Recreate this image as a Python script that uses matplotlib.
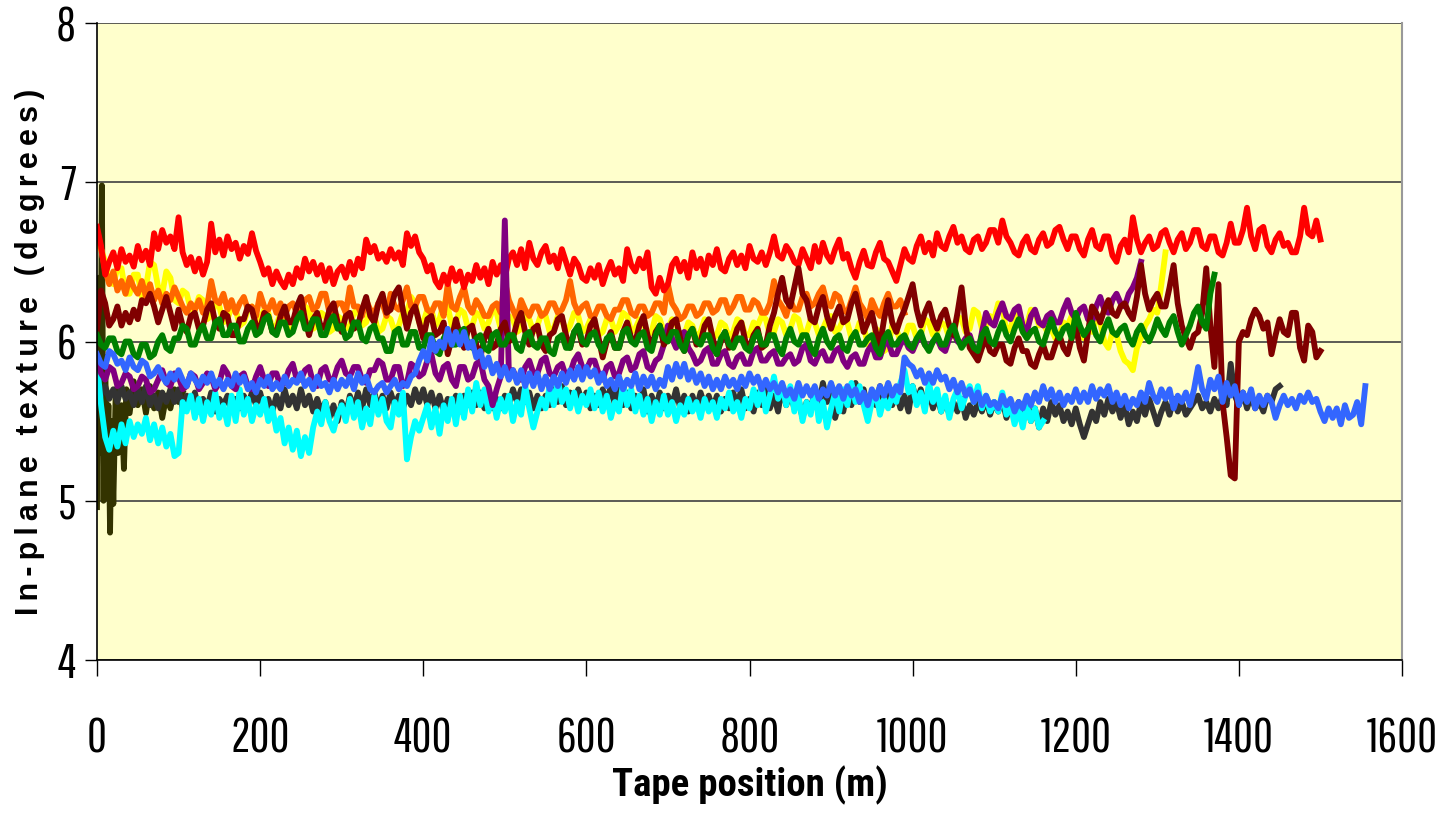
import numpy as np
import matplotlib
matplotlib.use("Agg")
import matplotlib.pyplot as plt

# readings every 5 m along the tape for each run
step = 5

red_vals = [
    6.72, 6.60, 6.42, 6.50, 6.56, 6.46, 6.58, 6.50, 6.54, 6.47, 6.60, 6.51, 6.57, 6.48, 6.68, 6.58, 6.70, 6.62, 6.66, 6.58,
    6.78, 6.56, 6.48, 6.53, 6.44, 6.52, 6.42, 6.50, 6.74, 6.56, 6.64, 6.54, 6.66, 6.58, 6.62, 6.52, 6.60, 6.55, 6.68, 6.57,
    6.50, 6.42, 6.46, 6.36, 6.44, 6.38, 6.34, 6.42, 6.36, 6.46, 6.40, 6.52, 6.44, 6.50, 6.42, 6.48, 6.38, 6.46, 6.36, 6.44,
    6.47, 6.40, 6.50, 6.42, 6.52, 6.46, 6.64, 6.56, 6.60, 6.52, 6.55, 6.50, 6.58, 6.52, 6.56, 6.48, 6.68, 6.60, 6.66, 6.56,
    6.52, 6.44, 6.48, 6.38, 6.34, 6.42, 6.36, 6.46, 6.38, 6.44, 6.34, 6.42, 6.38, 6.48, 6.40, 6.46, 6.36, 6.50, 6.42, 6.48,
    6.40, 6.52, 6.56, 6.48, 6.58, 6.46, 6.62, 6.52, 6.48, 6.56, 6.60, 6.50, 6.54, 6.46, 6.58, 6.50, 6.42, 6.52, 6.48, 6.40,
    6.38, 6.46, 6.40, 6.48, 6.36, 6.44, 6.50, 6.42, 6.46, 6.38, 6.58, 6.48, 6.44, 6.52, 6.46, 6.56, 6.34, 6.30, 6.40, 6.32,
    6.36, 6.48, 6.52, 6.44, 6.50, 6.40, 6.56, 6.46, 6.52, 6.42, 6.54, 6.48, 6.58, 6.46, 6.44, 6.52, 6.56, 6.48, 6.54, 6.46,
    6.60, 6.52, 6.50, 6.56, 6.48, 6.56, 6.66, 6.54, 6.52, 6.60, 6.56, 6.50, 6.48, 6.58, 6.52, 6.46, 6.60, 6.50, 6.62, 6.54,
    6.50, 6.58, 6.64, 6.52, 6.55, 6.46, 6.40, 6.50, 6.57, 6.48, 6.47, 6.56, 6.62, 6.52, 6.50, 6.44, 6.38, 6.48, 6.58, 6.52,
    6.50, 6.60, 6.66, 6.56, 6.62, 6.54, 6.68, 6.60, 6.58, 6.66, 6.72, 6.62, 6.66, 6.58, 6.56, 6.64, 6.66, 6.58, 6.62, 6.70,
    6.70, 6.62, 6.76, 6.66, 6.62, 6.56, 6.54, 6.62, 6.66, 6.58, 6.56, 6.64, 6.68, 6.60, 6.62, 6.70, 6.72, 6.64, 6.58, 6.66,
    6.66, 6.58, 6.54, 6.64, 6.70, 6.60, 6.58, 6.66, 6.66, 6.54, 6.50, 6.60, 6.64, 6.56, 6.78, 6.64, 6.56, 6.62, 6.66, 6.58,
    6.60, 6.68, 6.70, 6.62, 6.56, 6.64, 6.68, 6.58, 6.62, 6.70, 6.70, 6.60, 6.58, 6.66, 6.66, 6.56, 6.54, 6.62, 6.74, 6.62,
    6.62, 6.70, 6.84, 6.66, 6.58, 6.70, 6.72, 6.60, 6.56, 6.64, 6.68, 6.60, 6.62, 6.56, 6.56, 6.66, 6.84, 6.68, 6.66, 6.76,
    6.64]

orange_vals = [
    6.70, 6.58, 6.45, 6.36, 6.44, 6.32, 6.38, 6.30, 6.40, 6.34, 6.30, 6.38, 6.28, 6.36, 6.26, 6.32, 6.24, 6.30, 6.26, 6.34,
    6.28, 6.22, 6.18, 6.24, 6.20, 6.26, 6.18, 6.22, 6.38, 6.26, 6.24, 6.30, 6.20, 6.26, 6.18, 6.24, 6.28, 6.20, 6.22, 6.16,
    6.30, 6.22, 6.20, 6.26, 6.18, 6.24, 6.16, 6.22, 6.24, 6.18, 6.20, 6.26, 6.28, 6.20, 6.22, 6.30, 6.30, 6.18, 6.20, 6.24,
    6.24, 6.18, 6.34, 6.22, 6.22, 6.16, 6.26, 6.20, 6.18, 6.24, 6.24, 6.16, 6.30, 6.22, 6.20, 6.26, 6.34, 6.22, 6.22, 6.28,
    6.28, 6.20, 6.18, 6.24, 6.24, 6.16, 6.36, 6.22, 6.20, 6.28, 6.34, 6.22, 6.18, 6.26, 6.22, 6.16, 6.16, 6.22, 6.24, 6.18,
    6.38, 6.26, 6.20, 6.14, 6.26, 6.20, 6.16, 6.22, 6.22, 6.16, 6.18, 6.24, 6.24, 6.18, 6.20, 6.26, 6.38, 6.24, 6.18, 6.22,
    6.24, 6.16, 6.16, 6.22, 6.22, 6.16, 6.14, 6.20, 6.20, 6.26, 6.26, 6.18, 6.16, 6.22, 6.22, 6.16, 6.18, 6.24, 6.24, 6.18,
    6.36, 6.24, 6.20, 6.14, 6.16, 6.22, 6.22, 6.16, 6.18, 6.24, 6.24, 6.18, 6.20, 6.26, 6.26, 6.18, 6.22, 6.28, 6.28, 6.20,
    6.20, 6.26, 6.24, 6.18, 6.18, 6.24, 6.38, 6.26, 6.22, 6.16, 6.26, 6.20, 6.20, 6.28, 6.30, 6.22, 6.24, 6.30, 6.34, 6.24,
    6.22, 6.30, 6.28, 6.20, 6.18, 6.26, 6.34, 6.24, 6.20, 6.14, 6.26, 6.20, 6.16, 6.24, 6.30, 6.22, 6.22, 6.26, 6.18]

yellow_vals = [
    6.62, 6.58, 6.50, 6.38, 6.36, 6.46, 6.46, 6.30, 6.30, 6.42, 6.42, 6.28, 6.34, 6.50, 6.48, 6.34, 6.30, 6.44, 6.40, 6.26,
    6.24, 6.32, 6.30, 6.20, 6.20, 6.28, 6.26, 6.14, 6.16, 6.24, 6.22, 6.12, 6.14, 6.22, 6.20, 6.10, 6.12, 6.20, 6.22, 6.12,
    6.14, 6.20, 6.18, 6.08, 6.10, 6.18, 6.16, 6.06, 6.08, 6.16, 6.14, 6.22, 6.20, 6.08, 6.10, 6.18, 6.16, 6.06, 6.08, 6.16,
    6.14, 6.08, 6.10, 6.18, 6.20, 6.10, 6.12, 6.20, 6.16, 6.06, 6.08, 6.16, 6.14, 6.06, 6.10, 6.18, 6.18, 6.28, 6.24, 6.12,
    6.12, 6.20, 6.20, 6.10, 6.14, 6.24, 6.22, 6.10, 6.12, 6.20, 6.18, 6.08, 6.10, 6.18, 6.16, 6.08, 6.12, 6.20, 6.18, 6.08,
    6.10, 6.16, 6.14, 6.06, 6.08, 6.16, 6.14, 6.06, 6.10, 6.18, 6.16, 6.06, 6.08, 6.16, 6.14, 6.06, 6.10, 6.18, 6.16, 6.06,
    6.08, 6.14, 6.12, 6.04, 6.06, 6.14, 6.14, 6.06, 6.10, 6.18, 6.16, 6.06, 6.08, 6.14, 6.12, 6.04, 6.06, 6.16, 6.14, 6.06,
    6.08, 6.14, 6.12, 6.02, 6.04, 6.12, 6.10, 6.02, 6.06, 6.14, 6.12, 6.02, 6.04, 6.12, 6.10, 6.02, 6.06, 6.14, 6.12, 6.04,
    6.04, 6.12, 6.10, 6.16, 6.14, 6.04, 6.06, 6.14, 6.12, 6.04, 6.08, 6.16, 6.14, 6.04, 6.06, 6.14, 6.12, 6.04, 6.08, 6.14,
    6.16, 6.06, 6.08, 6.14, 6.12, 6.02, 6.04, 6.12, 6.10, 5.98, 5.96, 6.08, 6.06, 5.94, 5.96, 6.10, 6.08, 6.00, 6.02, 6.10,
    6.10, 6.02, 6.04, 6.14, 6.12, 6.04, 6.06, 6.12, 6.10, 6.02, 6.04, 6.16, 6.14, 6.06, 6.08, 6.20, 6.18, 6.08, 6.10, 6.16,
    6.14, 6.24, 6.22, 6.06, 6.08, 6.18, 6.16, 6.08, 6.10, 6.20, 6.18, 6.10, 6.12, 6.06, 6.08, 6.02, 6.04, 6.12, 6.10, 6.16,
    6.14, 6.04, 6.02, 6.08, 6.06, 6.14, 6.12, 6.00, 5.96, 6.06, 6.04, 5.94, 5.88, 5.86, 5.82, 5.96, 6.02, 6.10, 6.14, 6.20,
    6.18, 6.36, 6.56]

maroon_vals = [
    6.08, 6.32, 6.24, 6.10, 6.14, 6.22, 6.10, 6.18, 6.12, 6.20, 6.14, 6.26, 6.24, 6.30, 6.22, 6.12, 6.20, 6.28, 6.18, 6.08,
    6.20, 6.10, 6.06, 6.16, 6.18, 6.08, 6.10, 6.20, 6.24, 6.12, 6.08, 6.18, 6.16, 6.04, 6.04, 6.14, 6.14, 6.22, 6.20, 6.10,
    6.08, 6.18, 6.16, 6.06, 6.06, 6.16, 6.22, 6.12, 6.12, 6.22, 6.28, 6.14, 6.04, 6.14, 6.18, 6.08, 6.10, 6.20, 6.24, 6.12,
    6.06, 6.16, 6.18, 6.08, 6.10, 6.20, 6.28, 6.16, 6.12, 6.24, 6.30, 6.18, 6.20, 6.30, 6.34, 6.20, 6.08, 6.18, 6.22, 6.12,
    6.02, 6.14, 6.16, 6.04, 6.06, 6.12, 5.92, 6.02, 6.14, 6.04, 5.96, 6.08, 6.10, 5.98, 5.90, 6.02, 6.08, 5.96, 5.98, 6.08,
    6.12, 6.00, 6.02, 6.12, 6.18, 6.06, 5.98, 6.08, 6.10, 5.98, 5.94, 6.04, 6.06, 6.14, 6.16, 6.04, 5.96, 6.06, 6.08, 5.98,
    6.00, 6.10, 6.14, 6.02, 5.90, 6.00, 6.06, 5.96, 5.96, 6.06, 6.12, 6.02, 6.00, 6.10, 6.16, 6.04, 5.96, 6.06, 6.10, 5.98,
    6.02, 6.12, 6.14, 6.02, 5.94, 6.04, 6.08, 5.98, 6.00, 6.10, 6.14, 6.02, 5.92, 6.00, 6.06, 5.96, 6.00, 6.08, 6.12, 6.00,
    5.96, 6.04, 6.08, 5.96, 5.98, 6.10, 6.18, 6.30, 6.40, 6.26, 6.22, 6.34, 6.46, 6.30, 6.26, 6.14, 6.12, 6.22, 6.28, 6.16,
    6.08, 6.16, 6.22, 6.12, 6.14, 6.24, 6.30, 6.18, 6.06, 6.12, 6.18, 6.06, 5.98, 6.14, 6.26, 6.12, 6.06, 6.14, 6.20, 6.28,
    6.36, 6.20, 6.10, 6.18, 6.24, 6.14, 6.08, 6.16, 6.20, 6.10, 6.04, 6.18, 6.34, 6.10, 5.96, 5.92, 5.88, 5.96, 6.02, 5.94,
    5.92, 5.98, 5.98, 5.88, 5.86, 5.96, 6.02, 5.94, 5.94, 5.86, 5.84, 5.92, 5.98, 5.90, 5.90, 5.98, 6.04, 5.96, 5.92, 6.02,
    6.10, 5.96, 5.88, 6.06, 6.22, 6.18, 6.12, 6.20, 6.26, 6.18, 6.16, 6.22, 6.24, 6.18, 6.14, 6.28, 6.48, 6.30, 6.20, 6.26,
    6.30, 6.22, 6.22, 6.34, 6.48, 6.24, 6.10, 6.02, 5.96, 6.04, 6.06, 6.18, 6.46, 6.10, 5.84, 6.36, 5.62, 5.40, 5.16, 5.14,
    6.00, 6.06, 6.04, 6.14, 6.20, 6.16, 6.08, 6.12, 5.92, 6.04, 6.14, 6.06, 6.04, 6.18, 6.18, 5.96, 5.88, 6.10, 6.06, 5.90,
    5.94]

purple_vals = [
    5.88, 5.80, 5.76, 5.84, 5.82, 5.72, 5.74, 5.80, 5.78, 5.70, 5.72, 5.78, 5.76, 5.68, 5.70, 5.76, 5.82, 5.74, 5.72, 5.80,
    5.78, 5.70, 5.72, 5.80, 5.78, 5.70, 5.74, 5.80, 5.78, 5.70, 5.74, 5.84, 5.80, 5.72, 5.70, 5.78, 5.80, 5.72, 5.70, 5.78,
    5.84, 5.76, 5.72, 5.80, 5.80, 5.72, 5.74, 5.82, 5.86, 5.76, 5.76, 5.82, 5.84, 5.74, 5.72, 5.82, 5.84, 5.76, 5.76, 5.84,
    5.88, 5.80, 5.78, 5.84, 5.84, 5.76, 5.74, 5.82, 5.82, 5.88, 5.86, 5.76, 5.76, 5.84, 5.84, 5.72, 5.74, 5.86, 5.84, 5.78,
    5.80, 5.88, 5.92, 5.80, 5.76, 5.84, 5.86, 5.76, 5.72, 5.84, 5.84, 5.76, 5.78, 5.86, 5.88, 5.76, 5.72, 5.60, 5.70, 5.78,
    6.76, 5.80, 5.82, 5.76, 5.76, 5.84, 5.88, 5.80, 5.80, 5.88, 5.90, 5.80, 5.78, 5.84, 5.86, 5.78, 5.80, 5.88, 5.92, 5.84,
    5.82, 5.88, 5.88, 5.80, 5.76, 5.84, 5.86, 5.78, 5.80, 5.88, 5.90, 5.82, 5.84, 5.92, 5.94, 5.84, 5.82, 5.88, 5.90, 5.98,
    6.10, 6.02, 5.96, 6.04, 6.06, 5.96, 5.92, 5.86, 5.88, 5.94, 5.96, 5.86, 5.86, 5.92, 5.94, 5.86, 5.84, 5.90, 5.92, 5.86,
    5.86, 5.94, 5.96, 5.88, 5.88, 5.92, 5.94, 5.86, 5.86, 5.90, 5.92, 5.86, 5.88, 5.96, 5.98, 5.88, 5.86, 5.92, 5.94, 5.88,
    5.88, 5.94, 5.96, 5.88, 5.84, 5.90, 5.92, 5.86, 5.86, 5.94, 5.98, 5.90, 5.90, 5.98, 6.00, 5.92, 5.92, 5.98, 6.02, 5.96,
    5.94, 6.00, 6.04, 5.98, 5.96, 6.00, 6.02, 5.96, 5.94, 6.02, 6.06, 6.00, 5.98, 6.02, 6.04, 5.96, 5.92, 6.06, 6.18, 6.12,
    6.10, 6.18, 6.24, 6.16, 6.14, 6.20, 6.22, 6.10, 6.06, 6.16, 6.20, 6.12, 6.10, 6.16, 6.18, 6.12, 6.12, 6.20, 6.26, 6.18,
    6.14, 6.20, 6.22, 6.14, 6.12, 6.22, 6.28, 6.20, 6.18, 6.26, 6.30, 6.24, 6.22, 6.30, 6.34, 6.40, 6.50]

green_vals = [
    6.04, 5.98, 5.96, 6.02, 6.02, 5.94, 5.92, 6.00, 6.00, 5.92, 5.90, 5.98, 5.98, 5.90, 5.92, 6.00, 6.04, 5.96, 5.94, 6.02,
    6.02, 6.10, 6.08, 5.98, 5.98, 6.06, 6.10, 6.02, 6.02, 6.12, 6.14, 6.04, 6.04, 6.10, 6.10, 6.00, 6.00, 6.08, 6.12, 6.04,
    6.06, 6.14, 6.16, 6.06, 6.04, 6.12, 6.12, 6.04, 6.06, 6.14, 6.18, 6.08, 6.08, 6.14, 6.14, 6.04, 6.04, 6.12, 6.16, 6.08,
    6.10, 6.02, 6.04, 6.12, 6.12, 6.02, 6.00, 6.08, 6.10, 6.02, 6.02, 5.94, 5.94, 6.06, 6.08, 5.98, 5.98, 6.06, 6.06, 5.96,
    5.96, 6.04, 6.04, 5.94, 5.92, 6.02, 6.06, 5.98, 5.98, 6.06, 6.08, 5.98, 5.96, 6.02, 6.04, 5.96, 5.94, 6.04, 6.06, 5.98,
    5.98, 6.04, 6.04, 5.96, 5.94, 6.04, 6.06, 5.98, 5.96, 6.02, 6.02, 5.94, 5.92, 6.02, 6.04, 5.96, 5.96, 6.06, 6.10, 6.00,
    5.98, 6.04, 6.06, 5.98, 5.94, 6.02, 6.04, 5.96, 5.96, 6.06, 6.08, 6.00, 5.98, 6.04, 6.06, 5.96, 5.94, 6.04, 6.10, 6.02,
    6.00, 6.06, 6.06, 5.98, 5.94, 6.04, 6.08, 6.00, 5.98, 6.04, 6.04, 5.96, 5.92, 6.02, 6.06, 5.98, 5.96, 6.02, 6.02, 5.96,
    5.94, 6.02, 6.06, 5.98, 5.98, 6.04, 6.04, 5.96, 5.92, 6.02, 6.08, 6.00, 5.98, 6.04, 6.04, 5.96, 5.92, 6.02, 6.08, 6.00,
    5.96, 6.02, 6.04, 5.96, 5.94, 6.02, 6.06, 5.98, 5.98, 6.02, 6.04, 5.96, 5.92, 6.02, 6.06, 5.98, 5.98, 6.02, 6.04, 5.98,
    5.96, 6.02, 6.06, 5.98, 5.94, 6.00, 6.04, 5.98, 5.98, 6.06, 6.10, 6.02, 5.96, 6.00, 6.02, 5.96, 5.94, 6.04, 6.08, 6.00,
    5.98, 6.06, 6.12, 6.04, 6.00, 6.08, 6.14, 6.06, 6.02, 6.06, 6.08, 6.00, 5.98, 6.06, 6.14, 6.06, 6.02, 6.08, 6.10, 6.02,
    6.18, 6.10, 6.04, 6.08, 6.12, 6.04, 6.00, 6.08, 6.14, 6.06, 6.04, 6.08, 6.10, 6.02, 5.98, 6.06, 6.10, 6.04, 6.00, 6.06,
    6.14, 6.08, 6.04, 6.12, 6.16, 6.06, 5.98, 6.04, 6.10, 6.18, 6.22, 6.12, 6.08, 6.30, 6.42]

gray_vals = [
    5.74, 5.66, 5.72, 5.64, 5.70, 5.62, 5.72, 5.64, 5.68, 5.60, 5.70, 5.62, 5.72, 5.60, 5.66, 5.58, 5.68, 5.62, 5.70, 5.62,
    5.70, 5.58, 5.66, 5.60, 5.68, 5.56, 5.64, 5.58, 5.68, 5.56, 5.64, 5.60, 5.66, 5.56, 5.64, 5.58, 5.66, 5.60, 5.68, 5.60,
    5.68, 5.58, 5.64, 5.56, 5.66, 5.58, 5.70, 5.60, 5.66, 5.58, 5.70, 5.60, 5.66, 5.56, 5.64, 5.56, 5.62, 5.52, 5.60, 5.50,
    5.62, 5.54, 5.66, 5.58, 5.68, 5.58, 5.70, 5.60, 5.68, 5.58, 5.66, 5.58, 5.68, 5.60, 5.66, 5.58, 5.66, 5.60, 5.70, 5.62,
    5.70, 5.60, 5.68, 5.58, 5.66, 5.56, 5.64, 5.58, 5.66, 5.56, 5.66, 5.60, 5.68, 5.60, 5.68, 5.58, 5.66, 5.58, 5.64, 5.58,
    5.66, 5.60, 5.70, 5.62, 5.70, 5.62, 5.68, 5.58, 5.66, 5.58, 5.66, 5.60, 5.70, 5.62, 5.72, 5.60, 5.68, 5.62, 5.70, 5.62,
    5.68, 5.58, 5.66, 5.60, 5.70, 5.62, 5.72, 5.60, 5.70, 5.60, 5.68, 5.58, 5.66, 5.60, 5.70, 5.56, 5.66, 5.58, 5.68, 5.58,
    5.66, 5.60, 5.70, 5.58, 5.66, 5.56, 5.66, 5.58, 5.68, 5.60, 5.66, 5.58, 5.66, 5.56, 5.64, 5.58, 5.68, 5.60, 5.70, 5.58,
    5.64, 5.56, 5.68, 5.60, 5.70, 5.58, 5.66, 5.56, 5.72, 5.60, 5.68, 5.58, 5.64, 5.52, 5.62, 5.56, 5.70, 5.60, 5.74, 5.62,
    5.68, 5.52, 5.62, 5.56, 5.70, 5.60, 5.74, 5.62, 5.70, 5.58, 5.66, 5.60, 5.72, 5.62, 5.70, 5.60, 5.68, 5.58, 5.66, 5.56,
    5.72, 5.62, 5.70, 5.60, 5.68, 5.58, 5.66, 5.56, 5.64, 5.54, 5.62, 5.56, 5.64, 5.52, 5.60, 5.54, 5.62, 5.56, 5.64, 5.54,
    5.62, 5.56, 5.64, 5.52, 5.60, 5.54, 5.62, 5.56, 5.64, 5.50, 5.58, 5.46, 5.58, 5.50, 5.62, 5.54, 5.60, 5.50, 5.56, 5.48,
    5.58, 5.48, 5.40, 5.48, 5.56, 5.50, 5.62, 5.54, 5.64, 5.56, 5.62, 5.52, 5.60, 5.48, 5.56, 5.50, 5.62, 5.54, 5.64, 5.56,
    5.48, 5.56, 5.62, 5.54, 5.64, 5.56, 5.62, 5.54, 5.58, 5.62, 5.66, 5.58, 5.62, 5.56, 5.64, 5.58, 5.66, 5.60, 5.86, 5.66,
    5.60, 5.68, 5.58, 5.66, 5.58, 5.62, 5.56, 5.66, 5.62, 5.70, 5.72]

cyan_vals = [
    5.86, 5.60, 5.40, 5.32, 5.44, 5.34, 5.48, 5.36, 5.50, 5.40, 5.48, 5.42, 5.52, 5.38, 5.48, 5.36, 5.46, 5.34, 5.42, 5.28,
    5.30, 5.62, 5.56, 5.66, 5.52, 5.64, 5.50, 5.62, 5.54, 5.68, 5.52, 5.60, 5.48, 5.66, 5.50, 5.70, 5.54, 5.64, 5.50, 5.60,
    5.54, 5.64, 5.50, 5.58, 5.44, 5.52, 5.36, 5.46, 5.32, 5.44, 5.28, 5.40, 5.30, 5.46, 5.56, 5.48, 5.62, 5.50, 5.44, 5.54,
    5.60, 5.50, 5.64, 5.52, 5.62, 5.46, 5.58, 5.48, 5.66, 5.54, 5.64, 5.50, 5.46, 5.62, 5.54, 5.68, 5.26, 5.40, 5.50, 5.44,
    5.52, 5.60, 5.46, 5.58, 5.42, 5.60, 5.50, 5.64, 5.48, 5.66, 5.52, 5.70, 5.56, 5.74, 5.60, 5.70, 5.56, 5.66, 5.52, 5.64,
    5.56, 5.66, 5.50, 5.62, 5.54, 5.72, 5.58, 5.46, 5.56, 5.64, 5.58, 5.72, 5.60, 5.76, 5.62, 5.70, 5.58, 5.68, 5.56, 5.66,
    5.60, 5.70, 5.58, 5.68, 5.56, 5.66, 5.52, 5.62, 5.56, 5.74, 5.60, 5.70, 5.56, 5.66, 5.54, 5.64, 5.50, 5.62, 5.54, 5.66,
    5.54, 5.62, 5.50, 5.60, 5.54, 5.64, 5.56, 5.62, 5.52, 5.64, 5.56, 5.62, 5.52, 5.64, 5.58, 5.68, 5.56, 5.62, 5.52, 5.64,
    5.58, 5.70, 5.60, 5.72, 5.56, 5.66, 5.78, 5.64, 5.72, 5.60, 5.72, 5.56, 5.66, 5.50, 5.62, 5.54, 5.70, 5.50, 5.62, 5.46,
    5.58, 5.68, 5.56, 5.70, 5.60, 5.74, 5.62, 5.72, 5.60, 5.50, 5.62, 5.68, 5.54, 5.64, 5.58, 5.66, 5.62, 5.74, 5.82, 5.68,
    5.72, 5.60, 5.68, 5.56, 5.74, 5.62, 5.70, 5.56, 5.66, 5.52, 5.64, 5.70, 5.58, 5.66, 5.72, 5.62, 5.72, 5.58, 5.66, 5.56,
    5.62, 5.56, 5.68, 5.54, 5.60, 5.48, 5.58, 5.46, 5.60, 5.50, 5.58, 5.46, 5.50]

blue_vals = [
    5.92, 5.86, 5.84, 5.94, 5.92, 5.86, 5.88, 5.82, 5.90, 5.84, 5.82, 5.88, 5.86, 5.78, 5.80, 5.84, 5.78, 5.74, 5.80, 5.76,
    5.82, 5.76, 5.72, 5.80, 5.76, 5.72, 5.78, 5.74, 5.80, 5.72, 5.76, 5.70, 5.76, 5.72, 5.80, 5.74, 5.78, 5.70, 5.74, 5.68,
    5.76, 5.72, 5.78, 5.70, 5.74, 5.70, 5.78, 5.72, 5.76, 5.74, 5.80, 5.72, 5.76, 5.70, 5.78, 5.72, 5.74, 5.68, 5.76, 5.70,
    5.76, 5.72, 5.78, 5.70, 5.80, 5.74, 5.78, 5.70, 5.68, 5.72, 5.74, 5.68, 5.72, 5.76, 5.70, 5.74, 5.72, 5.78, 5.80, 5.88,
    5.94, 5.88, 6.02, 5.94, 6.00, 5.96, 6.08, 5.98, 6.06, 5.98, 6.06, 5.96, 6.00, 5.90, 5.94, 5.84, 5.90, 5.80, 5.86, 5.78,
    5.84, 5.76, 5.82, 5.74, 5.82, 5.72, 5.80, 5.72, 5.80, 5.70, 5.78, 5.70, 5.78, 5.72, 5.80, 5.74, 5.82, 5.76, 5.84, 5.76,
    5.84, 5.78, 5.82, 5.74, 5.80, 5.72, 5.76, 5.70, 5.78, 5.70, 5.76, 5.72, 5.80, 5.70, 5.78, 5.72, 5.78, 5.70, 5.76, 5.72,
    5.84, 5.76, 5.86, 5.78, 5.86, 5.76, 5.82, 5.74, 5.80, 5.72, 5.78, 5.70, 5.76, 5.70, 5.78, 5.72, 5.76, 5.70, 5.78, 5.72,
    5.80, 5.74, 5.78, 5.70, 5.76, 5.70, 5.74, 5.68, 5.74, 5.66, 5.70, 5.64, 5.74, 5.66, 5.72, 5.66, 5.72, 5.64, 5.70, 5.66,
    5.74, 5.66, 5.72, 5.64, 5.72, 5.66, 5.70, 5.62, 5.68, 5.60, 5.70, 5.64, 5.72, 5.66, 5.74, 5.66, 5.72, 5.68, 5.90, 5.86,
    5.84, 5.78, 5.82, 5.74, 5.80, 5.74, 5.82, 5.76, 5.78, 5.70, 5.76, 5.68, 5.74, 5.66, 5.70, 5.62, 5.68, 5.60, 5.66, 5.60,
    5.62, 5.58, 5.66, 5.60, 5.64, 5.56, 5.62, 5.58, 5.66, 5.60, 5.68, 5.62, 5.72, 5.64, 5.70, 5.62, 5.68, 5.60, 5.66, 5.62,
    5.70, 5.62, 5.68, 5.62, 5.72, 5.64, 5.70, 5.66, 5.72, 5.62, 5.68, 5.60, 5.66, 5.58, 5.64, 5.60, 5.68, 5.62, 5.74, 5.66,
    5.62, 5.70, 5.64, 5.70, 5.58, 5.66, 5.62, 5.68, 5.60, 5.70, 5.84, 5.70, 5.64, 5.76, 5.70, 5.78, 5.62, 5.74, 5.66, 5.72,
    5.60, 5.68, 5.62, 5.70, 5.58, 5.66, 5.60, 5.66, 5.62, 5.52, 5.60, 5.66, 5.60, 5.64, 5.58, 5.66, 5.62, 5.68, 5.62, 5.64,
    5.56, 5.50, 5.58, 5.52, 5.58, 5.48, 5.60, 5.52, 5.54, 5.62, 5.48, 5.72]

# dark olive run: only the first ~100 m, read more finely
olive_pos = [0, 2, 4, 6, 8, 10, 12, 14, 16, 18, 20, 23, 26, 30, 33, 36, 40, 45, 50, 55, 60, 65, 70, 75, 80,
             85, 90, 95, 100, 105]
olive_vals = [4.96, 6.40, 5.30, 6.98, 5.00, 5.90, 5.20, 5.60, 4.80, 5.50, 4.98, 5.70, 5.30, 5.60, 5.20, 5.70,
              5.55, 5.75, 5.60, 5.70, 5.55, 5.72, 5.58, 5.68, 5.52, 5.66, 5.58, 5.70, 5.62, 5.68]

# drawing order, bottom to top
runs = [
    (yellow_vals, '#FFFF00'),
    (orange_vals, '#FF6600'),
    (red_vals, '#FF0000'),
    (gray_vals, '#333333'),
    (cyan_vals, '#00FFFF'),
    (purple_vals, '#800080'),
    (maroon_vals, '#800000'),
    (green_vals, '#008000'),
    (blue_vals, '#3366FF'),
]

fig = plt.figure(figsize=(14.46, 8.17), dpi=100)
ax = fig.add_axes([97 / 1446, 157 / 817, 1305 / 1446, 637 / 817])
ax.set_facecolor('#FFFFCC')

lw = 4.2
ax.plot(olive_pos, olive_vals, color='#333300', lw=lw, solid_joinstyle='round')
for vals, col in runs:
    pos = np.arange(len(vals)) * step
    ax.plot(pos, vals, color=col, lw=lw, solid_joinstyle='round')

ax.set_xlim(0, 1600)
ax.set_ylim(4, 8)
ax.set_xticks(np.arange(0, 1601, 200))
ax.set_yticks([4, 5, 6, 7, 8])
ax.yaxis.grid(True, color='#404040', lw=1.2)
ax.set_axisbelow(True)

ax.spines['top'].set_visible(False)
ax.spines['right'].set_color('#999999')
ax.spines['right'].set_linewidth(1.5)
ax.spines['left'].set_linewidth(1.2)
ax.spines['bottom'].set_linewidth(1.2)

narrow = ['Pathway Gothic One', 'Archivo Narrow', 'Liberation Sans']
ax.tick_params(axis='x', length=11.5, width=1, pad=29, labelsize=35, direction='out')
ax.tick_params(axis='y', length=9, width=1, pad=6, labelsize=35, direction='out')
for lab in ax.get_xticklabels() + ax.get_yticklabels():
    lab.set_family(narrow)

ax.set_xlabel('Tape position (m)', family=['Roboto Condensed', 'Asap Condensed', 'Liberation Sans'],
              fontweight='bold', fontsize=28)
ax.xaxis.set_label_coords(0.5, -0.165)

# letter-spaced y title, as in the original
ylab = '\u2009'.join('In-plane texture (degrees)')
ax.set_ylabel(ylab, family=['Liberation Sans', 'DejaVu Sans'], fontweight='bold', fontsize=22)
ax.yaxis.set_label_coords(-0.040, 0.483)

fig.savefig('out.png', dpi=100)
